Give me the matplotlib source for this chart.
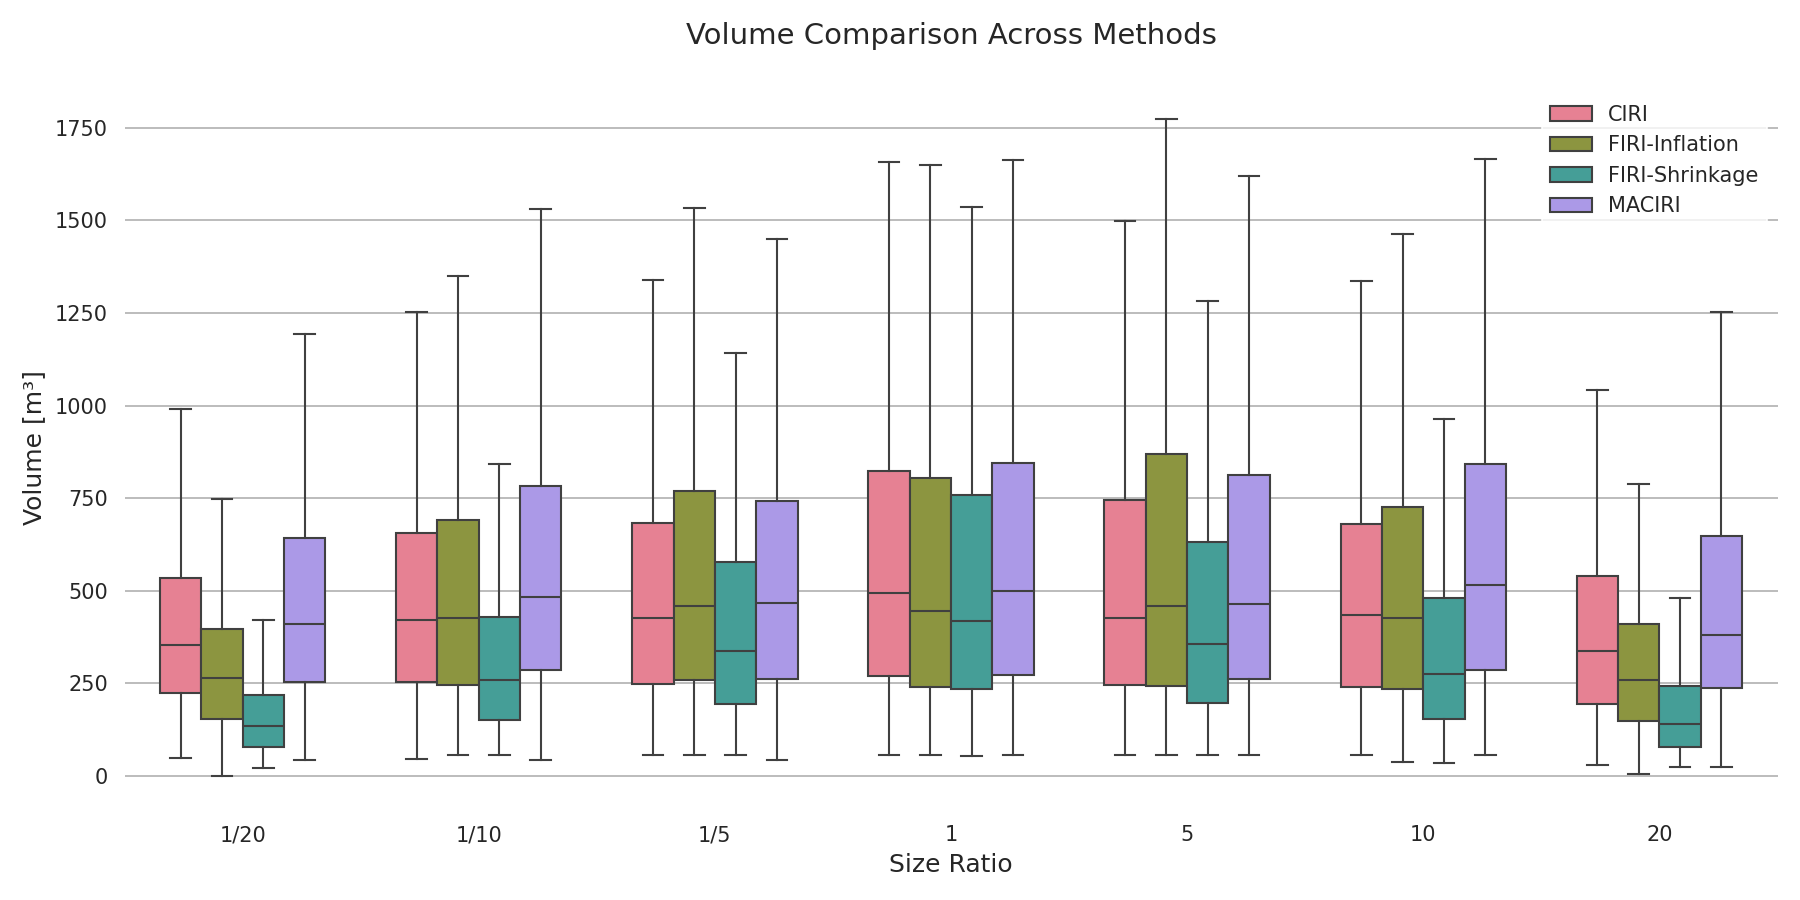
"""
Volume comparison across methods
Grouped box plot of volumes per size ratio
"""

import matplotlib.pyplot as plt
import numpy as np
import seaborn as sns
from matplotlib.patches import Patch

ratios = ['1/20', '1/10', '1/5', '1', '5', '10', '20']
methods = ['CIRI', 'FIRI-Inflation', 'FIRI-Shrinkage', 'MACIRI']

# box statistics per method (rows) and size ratio (columns)
whis_lo = [
    [48, 46, 56, 56, 56, 56, 29],
    [0, 56, 56, 56, 56, 37, 3],
    [21, 56, 56, 54, 56, 34, 22],
    [42, 42, 42, 56, 56, 56, 24],
]
q1 = [
    [224, 254, 247, 268, 244, 239, 194],
    [153, 244, 257, 239, 241, 233, 147],
    [78, 151, 193, 233, 196, 153, 78],
    [253, 284, 260, 271, 261, 284, 237],
]
medians = [
    [353, 420, 427, 493, 426, 433, 336],
    [263, 427, 458, 444, 459, 427, 257],
    [134, 257, 336, 417, 355, 274, 140],
    [410, 483, 466, 498, 464, 516, 381],
]
q3 = [
    [535, 655, 683, 824, 746, 680, 538],
    [396, 690, 770, 805, 868, 726, 410],
    [217, 428, 576, 759, 631, 480, 242],
    [641, 783, 741, 844, 811, 841, 647],
]
whis_hi = [
    [991, 1252, 1338, 1658, 1498, 1337, 1043],
    [748, 1349, 1535, 1651, 1774, 1464, 787],
    [420, 843, 1142, 1537, 1283, 963, 480],
    [1193, 1532, 1451, 1664, 1619, 1666, 1254],
]

colors = sns.color_palette('husl', len(methods), desat=0.75)
LINE = '#404040'
TEXT = '#262626'

plt.rcParams.update({
    'font.family': ['DejaVu Sans'],
    'text.color': TEXT,
    'axes.labelcolor': TEXT,
    'xtick.color': TEXT,
    'ytick.color': TEXT,
})

fig, ax = plt.subplots(figsize=(12, 6), dpi=150)

group_width = 0.7
box_w = group_width / len(methods)
x = np.arange(len(ratios))

for i, (m, c) in enumerate(zip(methods, colors)):
    offset = -group_width / 2 + box_w * (i + 0.5)
    stats = []
    for j in range(len(ratios)):
        stats.append(dict(whislo=whis_lo[i][j], q1=q1[i][j], med=medians[i][j],
                          q3=q3[i][j], whishi=whis_hi[i][j], label=ratios[j]))
    ax.bxp(stats, positions=x + offset, widths=box_w, patch_artist=True,
           showfliers=False, manage_ticks=False,
           boxprops=dict(facecolor=c, edgecolor=LINE, linewidth=1.0),
           medianprops=dict(color=LINE, linewidth=1.0),
           whiskerprops=dict(color=LINE, linewidth=1.0),
           capprops=dict(color=LINE, linewidth=1.0))

ax.set_xticks(x)
ax.set_xticklabels(ratios)
ax.set_xlim(-0.5, len(ratios) - 0.5)
ax.set_ylim(-89, 1863)
ax.set_yticks([0, 250, 500, 750, 1000, 1250, 1500, 1750])

for s in ax.spines.values():
    s.set_visible(False)
ax.tick_params(axis='both', length=0, pad=8, labelsize=10)
ax.yaxis.grid(True, color='#b0b0b0', linewidth=0.8)
ax.xaxis.grid(False)
ax.set_axisbelow(True)

ax.set_xlabel('Size Ratio', fontsize=12)
ax.set_ylabel('Volume [m³]', fontsize=12)
ax.set_title('Volume Comparison Across Methods', fontsize=14, pad=20)

handles = [Patch(facecolor=c, edgecolor=LINE, linewidth=1.0, label=m)
           for m, c in zip(methods, colors)]
leg = ax.legend(handles=handles, loc='upper right', fontsize=10,
                frameon=True, framealpha=0.8)
leg.get_frame().set_edgecolor('white')

plt.tight_layout()
plt.savefig('out.png', dpi=150)
plt.close()
